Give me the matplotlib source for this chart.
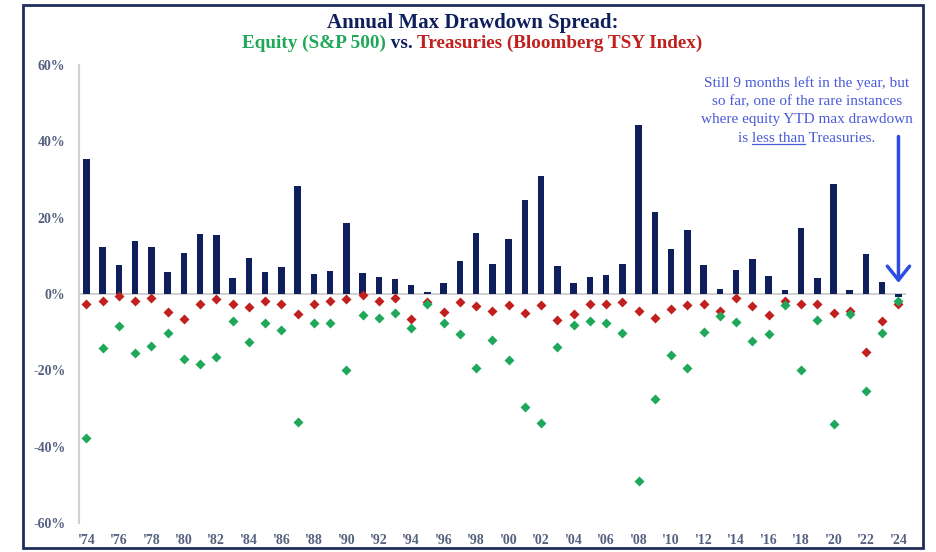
import matplotlib
matplotlib.use('Agg')
import matplotlib.pyplot as plt
from matplotlib.patches import Rectangle
from matplotlib.lines import Line2D

# values (percent)
years = list(range(1974, 2025))
spread = [35.3, 12.4, 7.6, 14.0, 12.4, 5.7, 10.7, 15.8, 15.4, 4.3,
          9.4, 5.9, 7.0, 28.4, 5.3, 6.0, 18.6, 5.6, 4.5, 3.9,
          2.3, 0.4, 3.0, 8.6, 16.1, 7.8, 14.3, 24.6, 30.9, 7.4,
          2.9, 4.4, 5.1, 7.9, 44.2, 21.4, 11.9, 16.7, 7.5, 1.3,
          6.2, 9.1, 4.8, 1.1, 17.3, 4.3, 28.9, 1.0, 10.4, 3.1, -0.7]
equity_dd = [-37.7, -14.1, -8.3, -15.4, -13.5, -10.3, -17.1, -18.4, -16.6, -7.0,
             -12.7, -7.7, -9.5, -33.6, -7.7, -7.5, -20.0, -5.5, -6.2, -4.9,
             -9.0, -2.5, -7.5, -10.6, -19.4, -12.1, -17.2, -29.6, -33.9, -14.0,
             -8.2, -7.1, -7.5, -10.1, -48.9, -27.6, -16.1, -19.4, -9.9, -5.7,
             -7.4, -12.4, -10.4, -2.8, -19.8, -6.8, -34.0, -5.3, -25.4, -10.2, -1.8]
tsy_dd = [-2.5, -1.8, -0.5, -1.8, -1.1, -4.6, -6.5, -2.6, -1.3, -2.6,
          -3.3, -1.8, -2.5, -5.3, -2.5, -1.8, -1.4, -0.2, -1.8, -1.1,
          -6.6, -2.0, -4.6, -2.2, -3.2, -4.4, -2.9, -5.1, -2.9, -6.7,
          -5.3, -2.6, -2.5, -2.2, -4.5, -6.4, -4.0, -2.9, -2.5, -4.5,
          -1.1, -3.2, -5.6, -1.8, -2.5, -2.5, -4.9, -4.4, -15.2, -7.1, -2.5]
tick_years = list(range(1974, 2025, 2))
tick_labels = ["'%02d" % (y % 100) for y in tick_years]
y_ticks = [-60, -40, -20, 0, 20, 40, 60]

navy = '#0f1f5c'
green = '#1fa85a'
red = '#c0201e'
label_col = '#56617f'
note_col = '#4a5ad8'
serif = 'Liberation Serif'

fig = plt.figure(figsize=(9.36, 5.52), dpi=100)
ax = fig.add_axes([0.0847, 0.0525, 0.8837, 0.8297])

ax.axhline(0, color='#c8c8c8', lw=1.2, zorder=1)
ax.bar(years, spread, width=0.4, color=navy, zorder=2)
ax.plot(years, tsy_dd, 'D', color=red, ms=5.5, mec='none', zorder=3)
ax.plot(years, equity_dd, 'D', color=green, ms=5.5, mec='none', zorder=4)

ax.set_xlim(1973.56, 2024.49)
ax.set_ylim(-60, 60)
ax.set_yticks(y_ticks)
ax.set_yticklabels(['%d%%' % v for v in y_ticks])
ax.set_xticks(tick_years)
ax.set_xticklabels(tick_labels)
for lab in ax.get_xticklabels() + ax.get_yticklabels():
    lab.set_fontfamily(serif)
    lab.set_fontweight('bold')
    lab.set_fontsize(10)
    lab.set_color(label_col)
ax.tick_params(axis='both', length=0)
ax.tick_params(axis='y', pad=10)
ax.tick_params(axis='x', pad=8)
for s in ['top', 'right', 'bottom']:
    ax.spines[s].set_visible(False)
ax.spines['left'].set_color('#d0d0d0')
ax.spines['left'].set_linewidth(1.5)

# arrow to 2024
ax.annotate('', xy=(2024, 2.2), xytext=(2024, 42),
            arrowprops=dict(arrowstyle='->, head_length=0.5, head_width=0.4',
                            color='#2b4de0', lw=2.5, mutation_scale=20))

renderer = fig.canvas.get_renderer()


def centered_parts(xc, yc, parts, **kw):
    texts = []
    for s, c in parts:
        texts.append(fig.text(0, yc, s, color=c, ha='left', va='center', **kw))
    widths = [t.get_window_extent(renderer).width for t in texts]
    x0 = xc * fig.bbox.width - sum(widths) / 2
    for t, w in zip(texts, widths):
        t.set_x(x0 / fig.bbox.width)
        x0 += w
    return texts


# title
fig.text(473 / 936, 1 - 23 / 552, 'Annual Max Drawdown Spread:', ha='center', va='center',
         color=navy, fontsize=15, fontweight='bold', family=serif)
centered_parts(472 / 936, 1 - 43 / 552, [('Equity (S&P 500)', green), (' vs. ', navy),
                                         ('Treasuries (Bloomberg TSY Index)', red)],
               fontsize=13.8, fontweight='bold', family=serif)

# note
note_x = 807 / 936
note_lines = ['Still 9 months left in the year, but',
              'so far, one of the rare instances',
              'where equity YTD max drawdown']
for i, line in enumerate(note_lines):
    fig.text(note_x, 1 - (83 + 18.4 * i) / 552, line, ha='center', va='center',
             color=note_col, fontsize=11, family=serif)
last = centered_parts(note_x, 1 - (83 + 18.4 * 3) / 552,
                      [('is ', note_col), ('less than', note_col), (' Treasuries.', note_col)],
                      fontsize=11, family=serif)
bb = last[1].get_window_extent(renderer)
uy = bb.y0 + 1
fig.add_artist(Line2D([bb.x0 / fig.bbox.width, bb.x1 / fig.bbox.width],
                      [uy / fig.bbox.height, uy / fig.bbox.height],
                      color=note_col, lw=0.9))

# frame around the whole slide
fig.add_artist(Rectangle((0.0246, 0.008), 0.9614, 0.983, transform=fig.transFigure,
                         fill=False, edgecolor='#1f2d5a', lw=2))

fig.savefig('out.png', dpi=100)
